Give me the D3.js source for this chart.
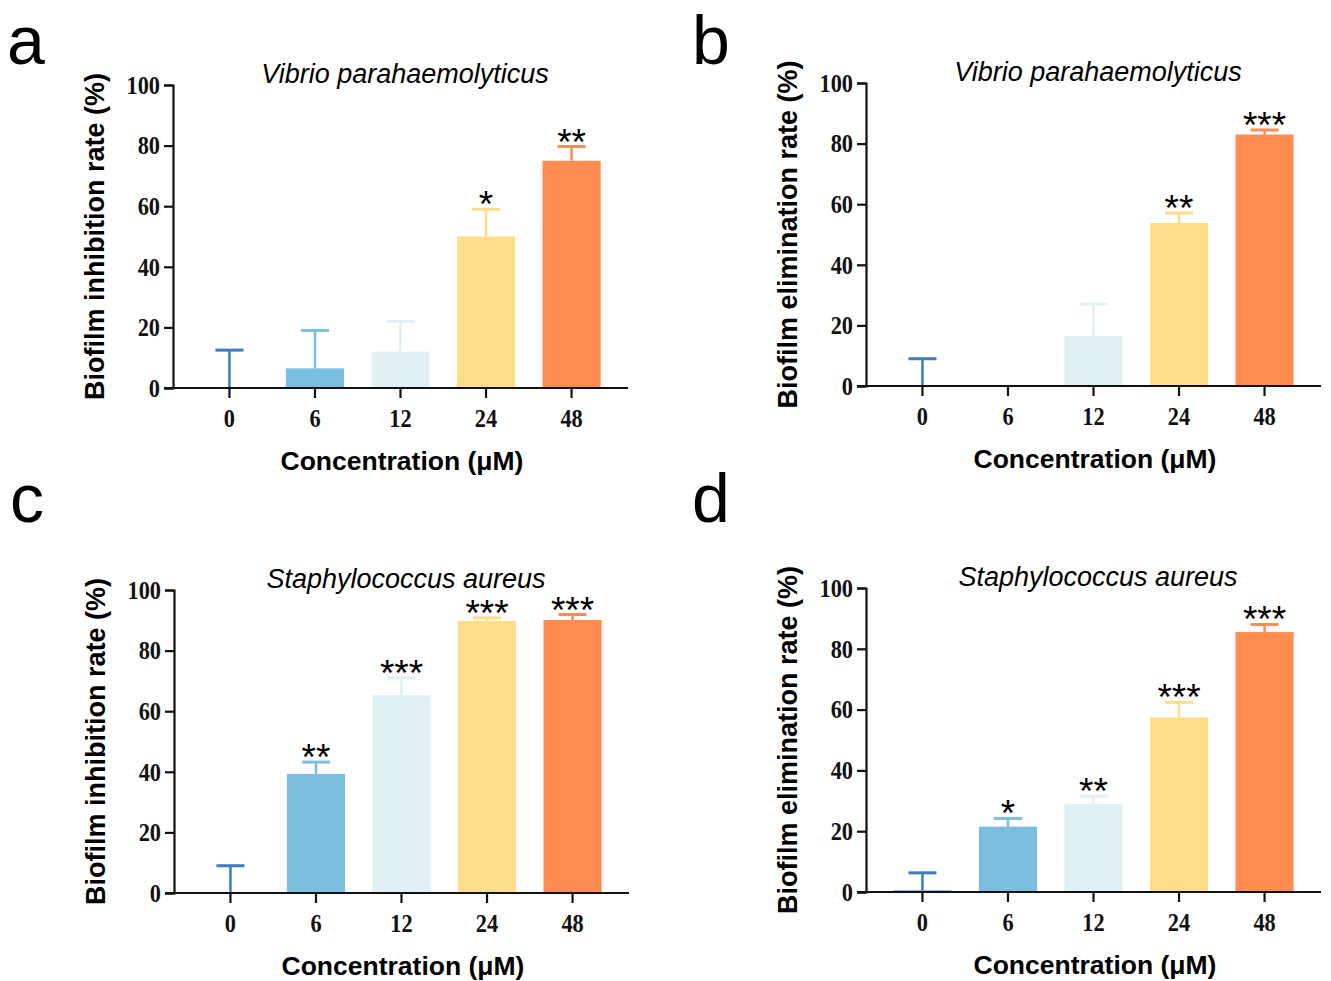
<html>
<head>
<meta charset="utf-8">
<title>Biofilm</title>
<style>
  body { margin: 0; background: #fff; }
  .tick text { font-family: "Liberation Serif", "Times New Roman", serif; font-weight: bold; }
</style>
</head>
<body>
<script src="https://cdn.jsdelivr.net/npm/d3@7"></script>
<script>
var categories = ["0", "6", "12", "24", "48"];
var colors = ["#3b7dc0", "#7bbfe0", "#e0f0f3", "#fddd8a", "#ff8c50"];
var yTicks = [0, 20, 40, 60, 80, 100];

// panel a
var aMean = [0, 6.5, 12, 50, 75];
var aErr = [12.5, 12.5, 10, 9, 4.7];
var aSig = ["", "", "", "*", "**"];
// panel b
var bMean = [0, 0, 16.5, 53.8, 83];
var bErr = [9, 0, 10.5, 3.3, 1.5];
var bSig = ["", "", "", "**", "***"];
// panel c
var cMean = [0, 39.3, 65.3, 89.8, 90.1];
var cErr = [9, 3.9, 5.7, 1.0, 1.8];
var cSig = ["", "**", "***", "***", "***"];
// panel d
var dMean = [0.5, 21.5, 29, 57.4, 85.5];
var dErr = [5.8, 2.7, 2.5, 5, 2.5];
var dSig = ["", "*", "**", "***", "***"];

var svg = d3.select("body").append("svg")
  .attr("width", 1331)
  .attr("height", 981);

function drawPanel(p) {
  var x = d3.scaleBand().domain(categories).range([p.left, p.left + 455]).padding(0.32);
  var y = d3.scaleLinear().domain([0, 100]).range([p.bottom, p.top]);
  var g = svg.append("g");
  var rows = categories.map(function(c, i){
    return {cat: c, mean: p.mean[i], err: p.err[i], sig: p.sig[i], color: colors[i]};
  });
  var cx = function(d){ return x(d.cat) + x.bandwidth()/2; };

  // bars
  g.selectAll("rect.bar").data(rows).enter().append("rect")
    .attr("x", function(d){ return x(d.cat); })
    .attr("width", x.bandwidth())
    .attr("y", function(d){ return y(d.mean); })
    .attr("height", function(d){ return y(0) - y(d.mean); })
    .attr("fill", function(d){ return d.color; });

  // upper error bars only
  var withErr = rows.filter(function(d){ return d.err > 0; });
  g.selectAll("line.ev").data(withErr).enter().append("line")
    .attr("x1", cx).attr("x2", cx)
    .attr("y1", function(d){ return y(d.mean); })
    .attr("y2", function(d){ return y(d.mean + d.err); })
    .attr("stroke", function(d){ return d.color; })
    .attr("stroke-width", 2.5);
  g.selectAll("line.cap").data(withErr).enter().append("line")
    .attr("x1", function(d){ return cx(d) - 14; })
    .attr("x2", function(d){ return cx(d) + 14; })
    .attr("y1", function(d){ return y(d.mean + d.err); })
    .attr("y2", function(d){ return y(d.mean + d.err); })
    .attr("stroke", function(d){ return d.color; })
    .attr("stroke-width", 3);

  // significance stars
  g.selectAll("text.sig").data(rows).enter().append("text")
    .attr("x", cx)
    .attr("y", function(d){ return y(d.mean + d.err) + 8; })
    .attr("text-anchor", "middle")
    .style("font-family", "Liberation Sans, Arial, sans-serif")
    .style("font-size", "37px")
    .text(function(d){ return d.sig; });

  // axes
  var yAxis = g.append("g")
    .attr("transform", "translate(" + p.left + ",0)")
    .call(d3.axisLeft(y).tickValues(yTicks).tickSize(9).tickPadding(3));
  var xAxis = g.append("g")
    .attr("transform", "translate(0," + p.bottom + ")")
    .call(d3.axisBottom(x).tickSize(10).tickPadding(11));
  [xAxis, yAxis].forEach(function(a){
    a.select(".domain").attr("stroke", "#111").attr("stroke-width", 2.2);
    a.selectAll(".tick line").attr("stroke", "#111").attr("stroke-width", 2.2);
    a.selectAll(".tick text").style("font-size", "26px").attr("fill", "#111")
      .attr("transform", "scale(0.86,1)");
  });
  xAxis.select(".domain").attr("d", "M" + (p.left - 9) + ",0H" + (p.left + 455));
  yAxis.selectAll(".tick text").attr("x", -13 / 0.86);
  xAxis.selectAll(".tick text").attr("x", 0);

  // titles
  g.append("text")
    .attr("x", p.left + 232)
    .attr("y", p.top - 2)
    .attr("text-anchor", "middle")
    .style("font-family", "Liberation Sans, Arial, sans-serif")
    .style("font-style", "italic")
    .style("font-size", "27px")
    .text(p.title);
  g.append("text")
    .attr("transform", "translate(" + (p.left - 69) + "," + ((p.top + p.bottom)/2) + ") rotate(-90)")
    .attr("text-anchor", "middle")
    .style("font-family", "Liberation Sans, Arial, sans-serif")
    .style("font-weight", "bold")
    .style("font-size", "27px")
    .text(p.ytitle);
  g.append("text")
    .attr("x", p.left + 229)
    .attr("y", p.bottom + 82)
    .attr("text-anchor", "middle")
    .style("font-family", "Liberation Sans, Arial, sans-serif")
    .style("font-weight", "bold")
    .style("font-size", "26.5px")
    .text("Concentration (\u03bcM)");
  g.append("text")
    .attr("x", p.lx)
    .attr("y", p.ly)
    .style("font-family", "Liberation Sans, Arial, sans-serif")
    .style("font-size", "68px")
    .text(p.letter);
}

drawPanel({left: 173, top: 85, bottom: 388, mean: aMean, err: aErr, sig: aSig,
  title: "Vibrio parahaemolyticus", ytitle: "Biofilm inhibition rate (%)", letter: "a", lx: 7, ly: 64});
drawPanel({left: 866, top: 83, bottom: 386, mean: bMean, err: bErr, sig: bSig,
  title: "Vibrio parahaemolyticus", ytitle: "Biofilm elimination rate (%)", letter: "b", lx: 692, ly: 64});
drawPanel({left: 174, top: 590, bottom: 893, mean: cMean, err: cErr, sig: cSig,
  title: "Staphylococcus aureus", ytitle: "Biofilm inhibition rate (%)", letter: "c", lx: 10, ly: 522});
drawPanel({left: 866, top: 588, bottom: 892, mean: dMean, err: dErr, sig: dSig,
  title: "Staphylococcus aureus", ytitle: "Biofilm elimination rate (%)", letter: "d", lx: 692, ly: 522});
</script>
</body>
</html>
